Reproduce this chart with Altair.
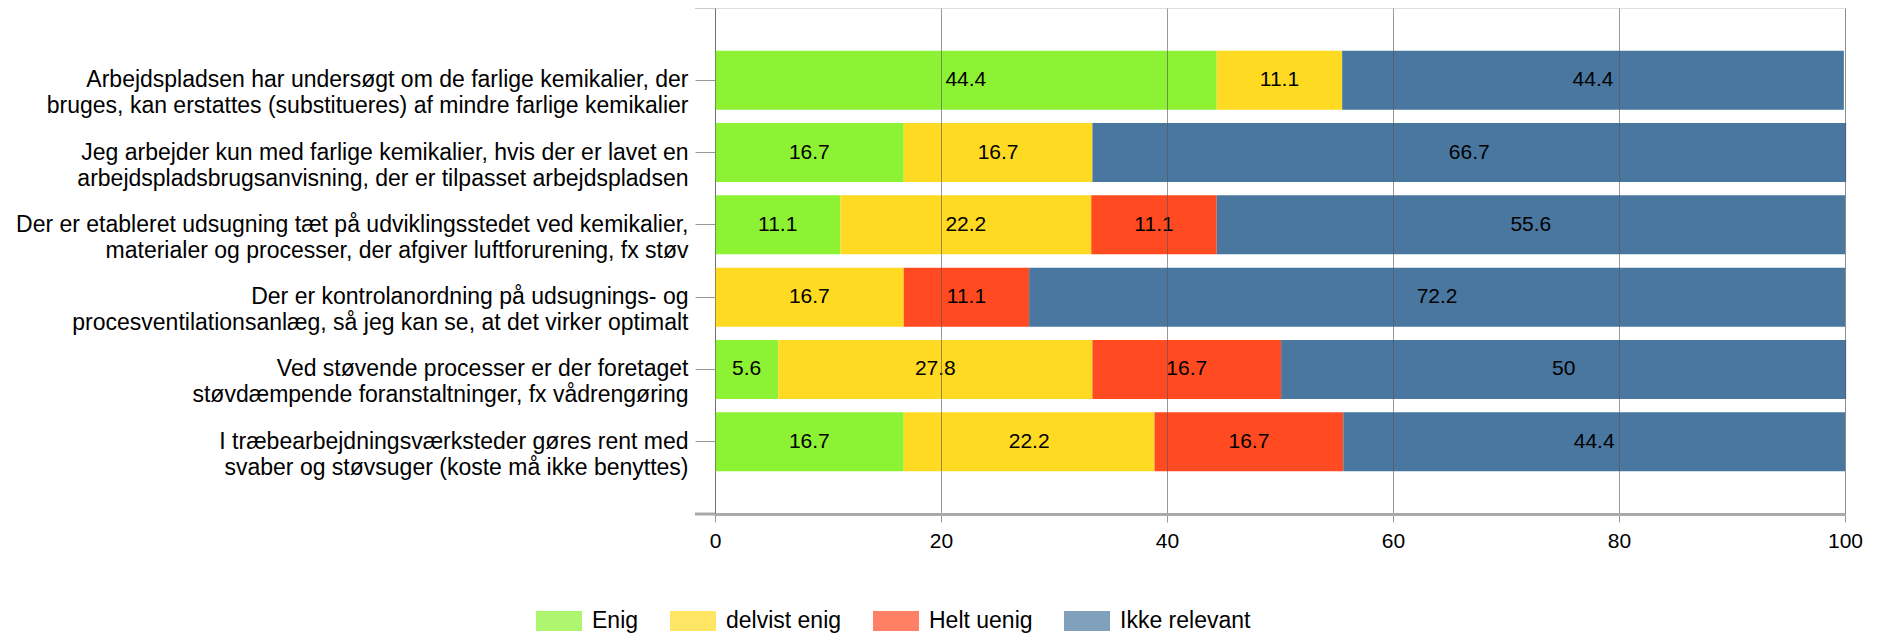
import altair as alt
import pandas as pd

categories = [
    "Arbejdspladsen har undersøgt om de farlige kemikalier, der|bruges, kan erstattes (substitueres) af mindre farlige kemikalier",
    "Jeg arbejder kun med farlige kemikalier, hvis der er lavet en|arbejdspladsbrugsanvisning, der er tilpasset arbejdspladsen",
    "Der er etableret udsugning tæt på udviklingsstedet ved kemikalier,|materialer og processer, der afgiver luftforurening, fx støv",
    "Der er kontrolanordning på udsugnings- og|procesventilationsanlæg, så jeg kan se, at det virker optimalt",
    "Ved støvende processer er der foretaget|støvdæmpende foranstaltninger, fx vådrengøring",
    "I træbearbejdningsværksteder gøres rent med|svaber og støvsuger (koste må ikke benyttes)",
]
series = ["Enig", "delvist enig", "Helt uenig", "Ikke relevant"]
enig = [44.4, 16.7, 11.1, 0, 5.6, 16.7]
delvist = [11.1, 16.7, 22.2, 16.7, 27.8, 22.2]
helt = [0, 0, 11.1, 11.1, 16.7, 16.7]
ikke = [44.4, 66.7, 55.6, 72.2, 50, 44.4]
colors = ["#8CF233", "#FFDA22", "#FF4A22", "#4A77A0"]
x_ticks = [0, 20, 40, 60, 80, 100]

rows = []
for si, (name, vals) in enumerate(zip(series, [enig, delvist, helt, ikke])):
    for ci, cat in enumerate(categories):
        rows.append({"cat": cat, "series": name, "value": vals[ci], "ord": si})
df = pd.DataFrame(rows)

FONT = "Liberation Sans"

base = alt.Chart(df).transform_filter(
    alt.datum.value > 0
).transform_stack(
    stack="value", groupby=["cat"], sort=[alt.SortField("ord", order="ascending")], as_=["v0", "v1"]
).transform_calculate(mid="(datum.v0 + datum.v1) / 2")

y_enc = alt.Y(
    "cat:N",
    sort=categories,
    title=None,
    scale=alt.Scale(paddingInner=0.184, paddingOuter=0.592),
    axis=alt.Axis(
        labelExpr="split(datum.label, '|')",
        labelFont=FONT, labelFontSize=23, labelColor="#000000",
        labelLineHeight=26, labelPadding=7, labelLimit=800,
        tickSize=20, tickColor="#999999", domainColor="#999999",
        grid=False,
    ),
)

x_scale = alt.Scale(domain=[0, 100], nice=False)

bars = base.mark_bar(opacity=1).encode(
    x=alt.X("v0:Q", scale=x_scale, title=None,
            axis=alt.Axis(values=x_ticks, grid=True, gridColor="#555555", gridOpacity=0.6,
                          domainColor="#aaaaaa", domainWidth=3, tickColor="#999999",
                          tickSize=8, labelFont=FONT, labelFontSize=21, labelColor="#000000",
                          labelPadding=8, labelFlush=False, zindex=1)),
    x2="v1:Q",
    y=y_enc,
    color=alt.Color("series:N", sort=series,
                    scale=alt.Scale(domain=series, range=colors),
                    legend=alt.Legend(title=None, orient="none", direction="horizontal",
                                      legendX=-179, legendY=590, padding=0,
                                      symbolType="M-1,-0.435H1V0.435H-1Z", symbolSize=2116,
                                      symbolOpacity=0.7, symbolStrokeWidth=0,
                                      labelFont=FONT, labelFontSize=23, labelColor="#000000",
                                      labelOffset=10, columnPadding=31)),
)

labels = base.mark_text(font=FONT, fontSize=21, color="#000000").encode(
    x=alt.X("mid:Q", scale=x_scale),
    y=alt.Y("cat:N", sort=categories),
    text=alt.Text("value:Q"),
)

top_tick = alt.Chart(alt.Data(values=[{"a": 1}])).mark_rule(color="#999999", strokeWidth=1).encode(
    x=alt.value(-20), x2=alt.value(0), y=alt.value(0)
)
bottom_tick = alt.Chart(alt.Data(values=[{"a": 1}])).mark_rule(color="#aaaaaa", strokeWidth=3).encode(
    x=alt.value(-20), x2=alt.value(0), y=alt.value(506)
)

chart = alt.layer(bars, labels, top_tick, bottom_tick).properties(
    width=1130, height=506,
    autosize=alt.AutoSizeParams(type="none"),
    padding={"left": 707, "top": 0, "right": 30, "bottom": 120},
).configure_view(stroke=None).configure(background="white")

chart.save("out.html", embed_options={"renderer": "svg", "actions": False})
